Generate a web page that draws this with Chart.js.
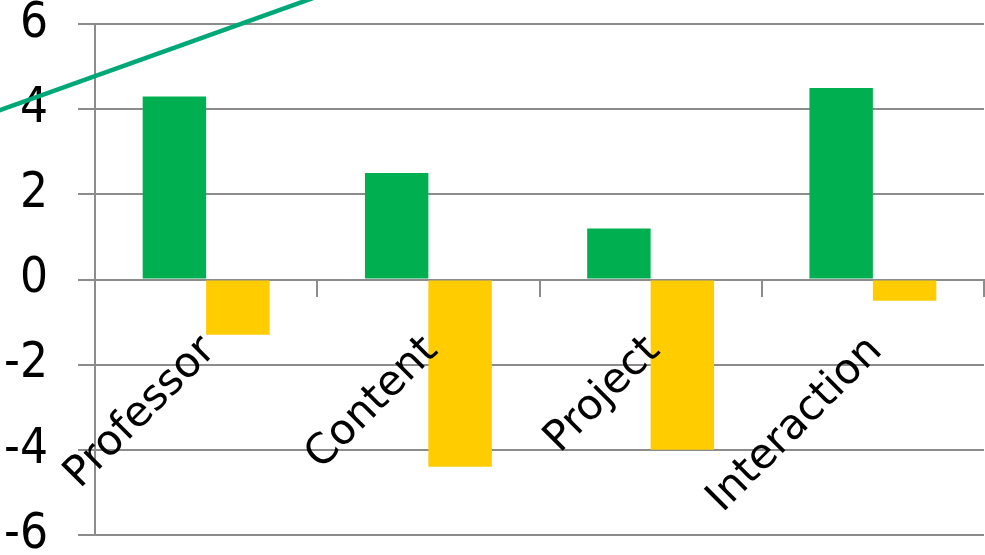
<!DOCTYPE html>
<html><head><meta charset="utf-8">
<script src="https://cdn.jsdelivr.net/npm/chart.js@4"></script>
<style>html,body{margin:0;padding:0;background:#fff;overflow:hidden}#wrap{width:985px;height:555px;position:relative}</style>
</head><body><div id="wrap"><canvas id="c"></canvas></div>
<script>
const categories = ['Professor', 'Content', 'Project', 'Interaction'];
const greenValues = [4.3, 2.5, 1.2, 4.5];
const yellowValues = [-1.3, -4.4, -4.0, -0.5];
// straight green line (category index positions, values)
const lineX = [-1, 0, 1, 2, 3];
const lineY = [3.84, 5.71, 7.58, 9.45, 11.32];
const yMin = -6, yMax = 6, yStep = 2;

const gridColor = '#8c8c8c';
const fontFamily = '"DejaVu Sans", Verdana, sans-serif';
const yFontFamily = '"DejaVu Sans Condensed", "DejaVu Sans", sans-serif';

new Chart(document.getElementById('c'), {
  type: 'bar',
  data: {
    labels: categories,
    datasets: [
      { type: 'bar', data: greenValues, backgroundColor: '#00B050',
        categoryPercentage: 0.571, barPercentage: 1.0 },
      { type: 'bar', data: yellowValues, backgroundColor: '#FFCC00',
        categoryPercentage: 0.571, barPercentage: 1.0 },
      { type: 'line', parsing: false, data: lineX.map((x, i) => ({ x: x, y: lineY[i] })),
        borderColor: '#00A878', borderWidth: 4.5, pointRadius: 0, fill: false, clip: false, tension: 0 }
    ]
  },
  options: {
    responsive: true,
    maintainAspectRatio: false,
    animation: false,
    layout: { padding: { top: 24, bottom: 20, left: 0, right: 1 } },
    plugins: { legend: { display: false }, tooltip: { enabled: false } },
    scales: {
      x: {
        type: 'category',
        position: { y: 0 },
        offset: true,
        grid: { drawOnChartArea: false, drawTicks: true, tickLength: 16, color: gridColor, lineWidth: 2, offset: true },
        border: { display: true, color: gridColor, width: 2 },
        ticks: { z: 1, minRotation: 45, maxRotation: 45, autoSkip: false, padding: 31, labelOffset: 3, color: '#000',
                 font: { family: fontFamily, size: 42 } },
        afterFit: (s) => { s.height = 0; s.paddingLeft = 0; s.paddingRight = 0; }
      },
      y: {
        type: 'linear', min: yMin, max: yMax,
        grid: { color: gridColor, lineWidth: 2, tickLength: 17, drawTicks: true },
        border: { display: true, color: gridColor, width: 2 },
        ticks: { stepSize: yStep, padding: 30, color: '#000', font: { family: yFontFamily, size: 49 } },
        afterFit: (s) => { s.width = 95; s.paddingTop = 0; s.paddingBottom = 0; }
      }
    }
  }
});
</script>
</body></html>
